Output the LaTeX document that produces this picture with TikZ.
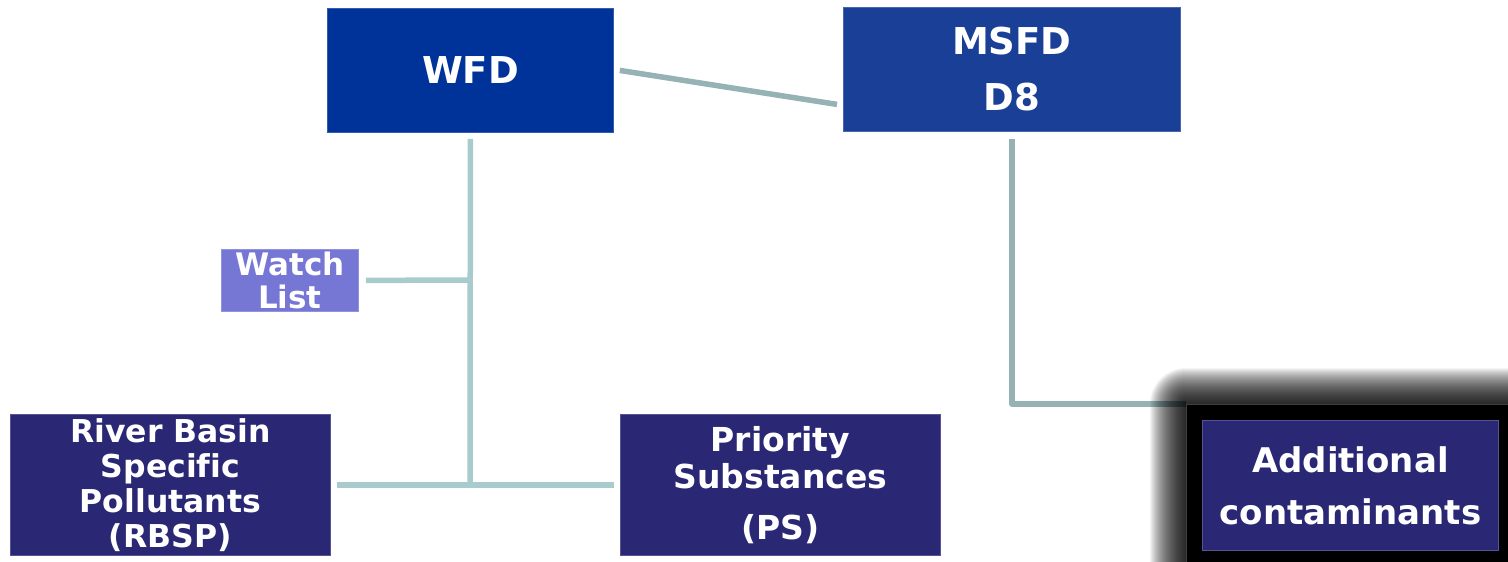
\documentclass[tikz,border=0pt]{standalone}
\usepackage{fontspec}
\setmainfont[Ligatures=NoCommon]{DejaVu Sans}
\usetikzlibrary{calc}
\pgfdeclarelayer{paper}
\pgfdeclarelayer{lines}
\pgfdeclarelayer{shade}
\pgfsetlayers{paper,lines,shade,main}
\definecolor{wfdblue}{RGB}{0,51,153}
\definecolor{msfdblue}{RGB}{25,64,150}
\definecolor{watchc}{RGB}{118,118,212}
\definecolor{navyc}{RGB}{42,40,116}
\definecolor{linec}{RGB}{168,204,206}
\definecolor{greyline}{RGB}{150,178,181}
\begin{document}
\begin{tikzpicture}[x=1pt,y=-1pt,
  box/.style={draw=#1!80!white, line width=0.8pt, fill=#1, text=white, align=center,
              inner sep=0pt, anchor=north west},
  conn/.style={line width=5.5pt, draw=linec},
  gconn/.style={line width=5.5pt, draw=greyline, line join=round}]
\useasboundingbox (0,0) rectangle (1508,562);
\begin{pgfonlayer}{paper}
  \fill[white] (0,0) rectangle (1508,562);
\end{pgfonlayer}

\node[box=wfdblue, minimum width=286pt, minimum height=124pt,
      font=\bfseries\fontsize{37}{56}\selectfont] (wfd) at (327,8) {WFD};
\node[box=msfdblue, minimum width=337pt, minimum height=124pt,
      font=\bfseries\fontsize{37}{56}\selectfont] (msfd) at (843,7) {MSFD\\D8};
\node[box=watchc, minimum width=137pt, minimum height=62pt,
      font=\bfseries\fontsize{31}{33}\selectfont] (watch) at (221,249) {Watch\\List};
\node[box=navyc, minimum width=320pt, minimum height=141pt,
      font=\bfseries\fontsize{31.5}{35}\selectfont] (rbsp) at (10,414)
      {River Basin\\Specific\\Pollutants\\(RBSP)};
\node[box=navyc, minimum width=320pt, minimum height=141pt,
      font=\bfseries\fontsize{33}{37}\selectfont] (ps) at (620,414)
      {Priority\\Substances\\[14pt](PS)};
\node[fill=black, draw=black!75, line width=1pt, inner sep=0pt, anchor=north west,
      minimum width=340pt, minimum height=170pt] (frame) at (1186,404) {};
\node[box=navyc, minimum width=296pt, minimum height=130pt,
      font=\bfseries\fontsize{34}{52}\selectfont] (add) at (1202,420)
      {Additional\\contaminants};

\coordinate (j1) at (470,485);
\coordinate (j2) at (470,280);

\begin{pgfonlayer}{shade}
  \foreach \i in {1,...,36}
    \fill[black, opacity=0.045, rounded corners=\i pt]
      ({1186-\i},{404-\i}) rectangle ({1540+\i},{590+\i});
\end{pgfonlayer}

\begin{pgfonlayer}{lines}
  \draw[gconn] ($(wfd.east)+(6,0)$) -- ($(msfd.west)+(-6,35)$);
  \draw[conn] ($(wfd.south)+(0,6)$) -- (j1);
  \draw[conn] ($(watch.east)+(7,0)$) -- (j2);
  \draw[conn] ($(rbsp.east)+(6,0)$) -- ($(ps.west)+(-6,0)$);
  \draw[gconn] ($(msfd.south)+(0,7)$) |- (frame.north west);
\end{pgfonlayer}
\end{tikzpicture}
\end{document}
